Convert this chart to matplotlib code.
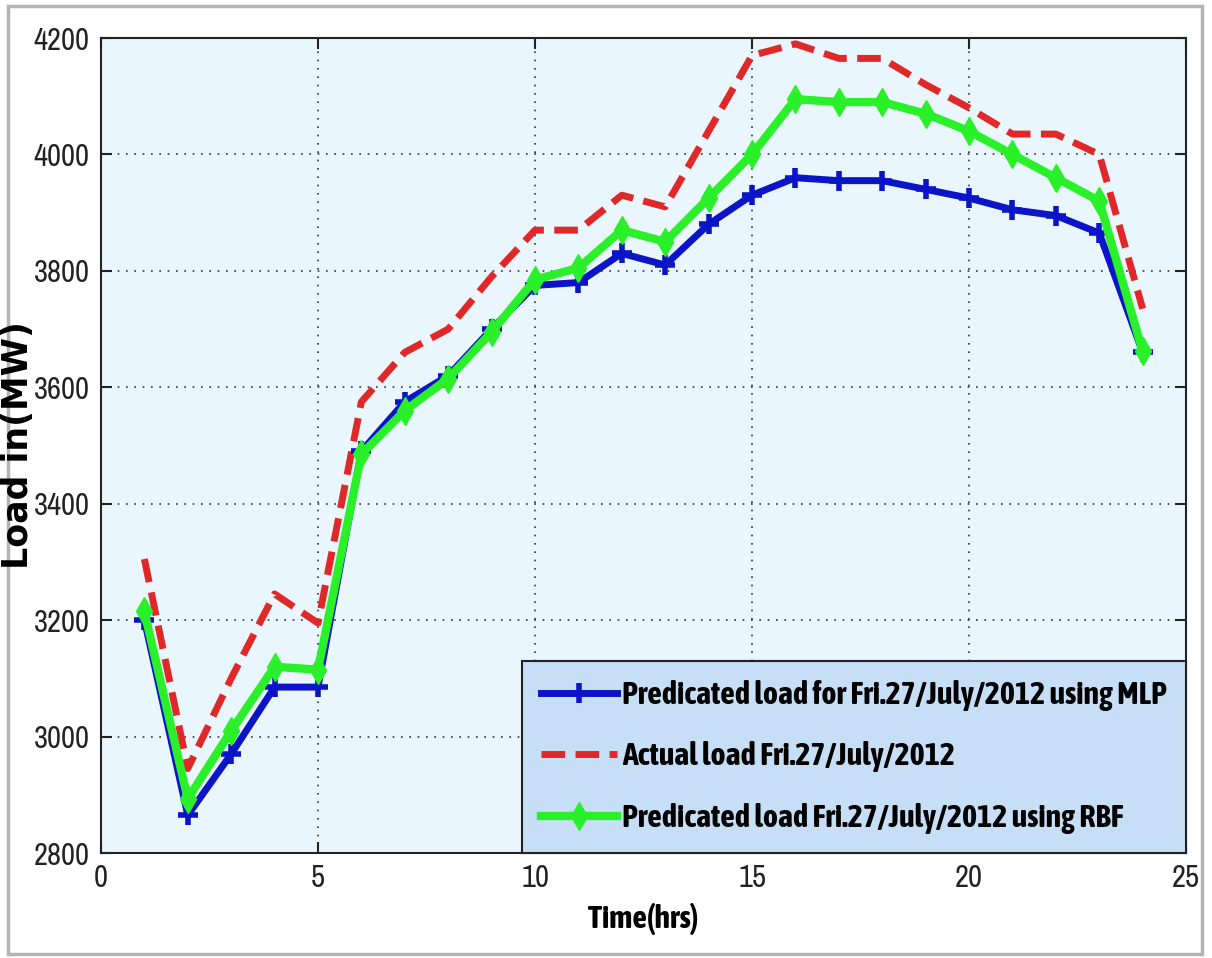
"""
Load forecast comparison - Fri. 27/July/2012
Actual load vs MLP and RBF predictions
"""

import matplotlib
matplotlib.use("Agg")
import matplotlib.pyplot as plt
from matplotlib import font_manager
from matplotlib.patches import Rectangle

# ==========================================
# Data
# ==========================================

hours = list(range(1, 25))

actual_load = [
    3305, 2945, 3100, 3245, 3195, 3575, 3660, 3700,
    3790, 3870, 3870, 3930, 3910, 4040, 4170, 4190,
    4165, 4165, 4120, 4080, 4035, 4035, 4000, 3735
]

mlp_load = [
    3200, 2865, 2970, 3085, 3085, 3490, 3575, 3620,
    3700, 3775, 3780, 3830, 3810, 3880, 3930, 3960,
    3955, 3955, 3940, 3925, 3905, 3895, 3865, 3660
]

rbf_load = [
    3215, 2893, 3010, 3120, 3115, 3485, 3560, 3615,
    3695, 3785, 3805, 3870, 3850, 3925, 4000, 4095,
    4090, 4090, 4070, 4040, 4000, 3960, 3920, 3662
]

x_ticks = [0, 5, 10, 15, 20, 25]
y_ticks = [2800, 3000, 3200, 3400, 3600, 3800, 4000, 4200]

label_mlp = "Predicated load for Fri.27/July/2012 using MLP"
label_actual = "Actual load Fri.27/July/2012"
label_rbf = "Predicated load Fri.27/July/2012 using RBF"

# ==========================================
# Fonts (narrow face if one is installed)
# ==========================================


def _is_bold(w):
    if isinstance(w, str):
        return w in ("bold", "heavy", "extra bold", "black", "semibold", "demibold")
    return w >= 600


ttf = font_manager.fontManager.ttflist
narrow_all = sorted({f.name for f in ttf if "Narrow" in f.name or "Condensed" in f.name})
narrow_bold = sorted({f.name for f in ttf
                      if ("Narrow" in f.name or "Condensed" in f.name) and _is_bold(f.weight)})

if "Liberation Sans Narrow" in narrow_all:
    narrow = ["Liberation Sans Narrow", "DejaVu Sans"]
elif narrow_all:
    narrow = [narrow_all[0], "DejaVu Sans"]
else:
    narrow = ["Liberation Sans", "DejaVu Sans"]

if "Liberation Sans Narrow" in narrow_bold:
    narrow_b = ["Liberation Sans Narrow", "DejaVu Sans"]
    legend_size = 23
elif narrow_bold:
    narrow_b = [narrow_bold[0], "DejaVu Sans"]
    legend_size = 23
else:
    narrow_b = ["Liberation Sans", "DejaVu Sans"]
    legend_size = 18

tick_size = 22 if narrow_all else 18

plt.rcParams["font.family"] = narrow

# ==========================================
# Figure
# ==========================================

fig = plt.figure(figsize=(12.12, 9.58), dpi=100)
fig.patch.set_facecolor("white")

# screenshot-like frame around the figure
fig.patches.append(
    Rectangle(
        (0.007, 0.004), 0.985, 0.99,
        transform=fig.transFigure,
        fill=False,
        edgecolor="#b4b4b4",
        linewidth=2.5,
        zorder=-5
    )
)

ax = fig.add_axes([0.0833, 0.1096, 0.8953, 0.8507])
ax.set_facecolor("#eaf6fd")

ax.plot(
    hours, mlp_load,
    color="#0c14c8",
    linewidth=5,
    marker="+",
    markersize=14,
    markeredgewidth=4,
    label=label_mlp,
    zorder=3
)

ax.plot(
    hours, actual_load,
    color="#e02828",
    linewidth=5,
    linestyle=(0, (3.4, 1.5)),
    label=label_actual,
    zorder=2
)

ax.plot(
    hours, rbf_load,
    color="#2af02a",
    linewidth=6,
    marker="d",
    markersize=14,
    label=label_rbf,
    zorder=4
)

ax.set_xlim(0, 25)
ax.set_ylim(2800, 4200)
ax.set_xticks(x_ticks)
ax.set_yticks(y_ticks)

ax.tick_params(
    direction="in",
    length=8,
    width=1.5,
    top=True,
    right=True,
    labelsize=tick_size,
    pad=8,
    colors="#222222"
)

ax.grid(
    True,
    linestyle=(0, (1, 4)),
    color="#333333",
    linewidth=1.2
)

for spine in ax.spines.values():
    spine.set_linewidth(1.5)
    spine.set_color("#222222")

ax.set_xlabel(
    "Time(hrs)",
    fontsize=tick_size + 1,
    fontweight="bold",
    family=narrow_b,
    labelpad=8
)

ax.set_ylabel(
    "Load in(MW)",
    fontsize=25,
    fontweight="bold",
    family=["DejaVu Sans"]
)
ax.yaxis.set_label_coords(-0.061, 0.5)

leg = ax.legend(
    loc="lower right",
    bbox_to_anchor=(1.0, 0.0),
    prop={"weight": "bold", "size": legend_size, "family": narrow_b},
    frameon=True,
    fancybox=False,
    borderpad=0.6,
    labelspacing=0.95,
    handlelength=2.4,
    handletextpad=0.15,
    borderaxespad=0.0
)
leg.get_frame().set_facecolor("#c6dff7")
leg.get_frame().set_edgecolor("#222222")
leg.get_frame().set_linewidth(1.5)
leg.get_frame().set_alpha(1.0)

fig.savefig("out.png", dpi=100, facecolor="white")
